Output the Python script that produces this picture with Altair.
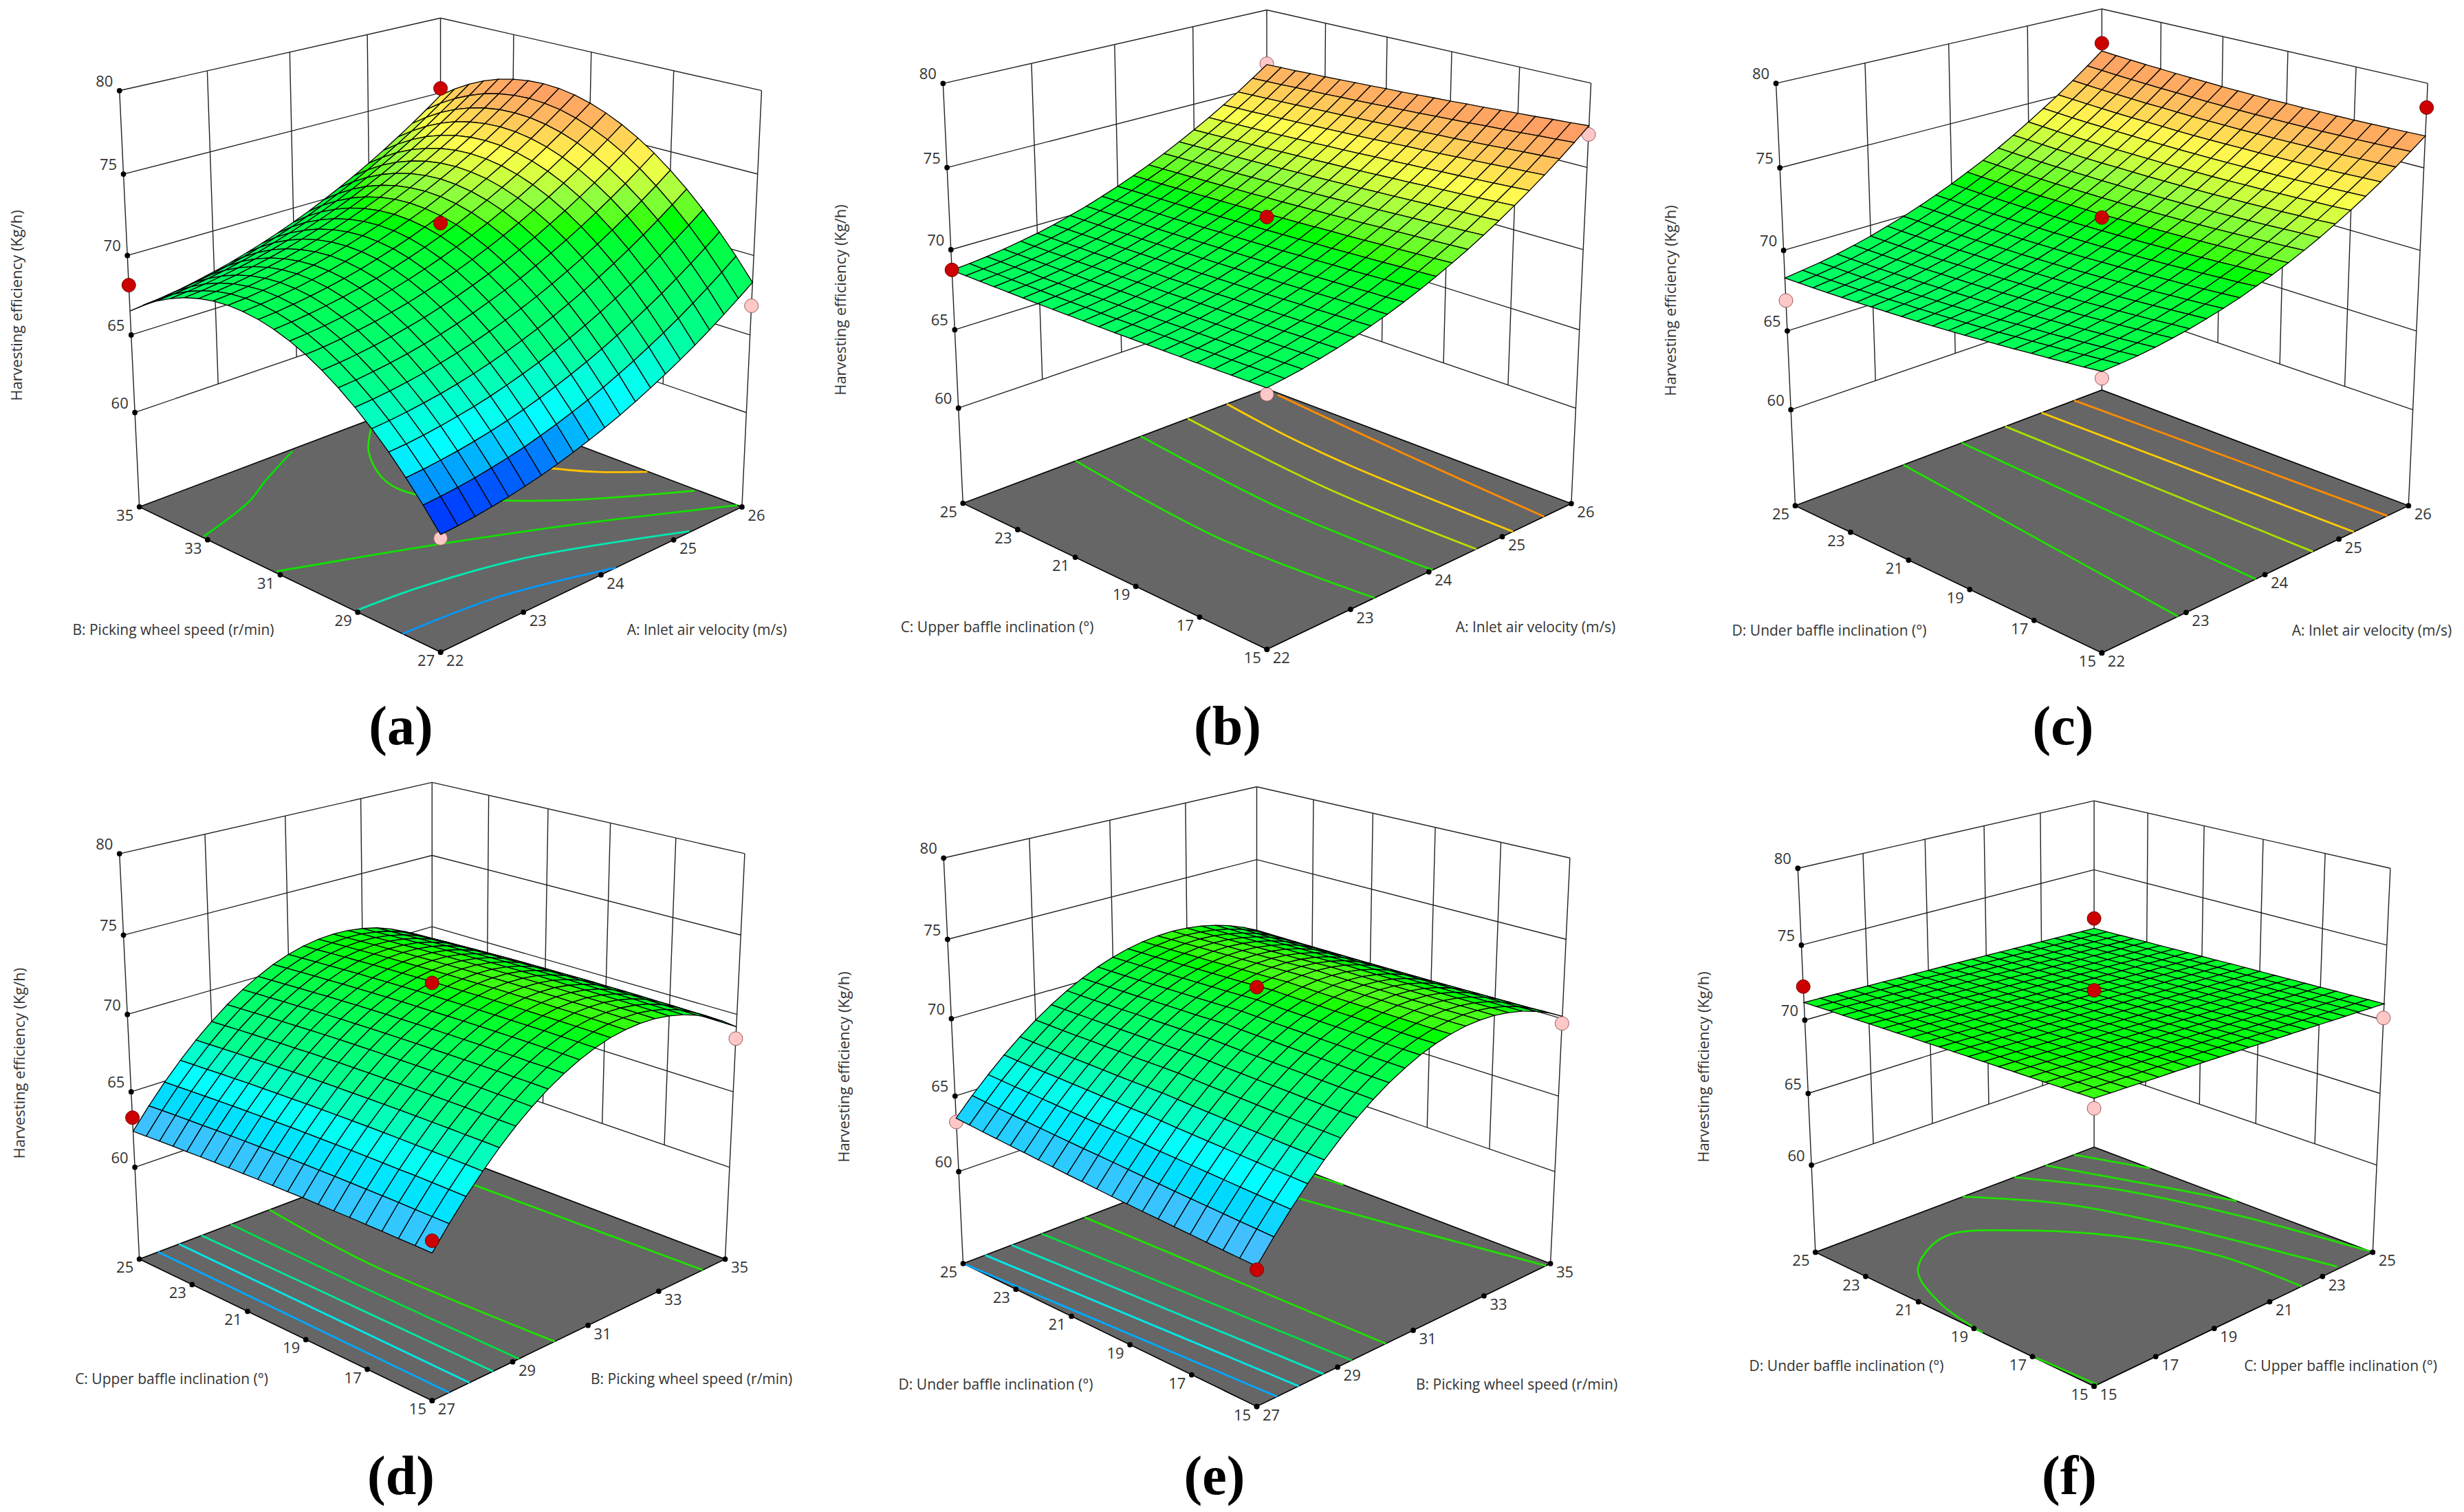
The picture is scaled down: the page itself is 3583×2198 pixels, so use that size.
import altair as alt, numpy as np, pandas as pd
alt.data_transformers.disable_max_rows()
FONT = "Open Sans"
Z_TICKS = [60, 65, 70, 75, 80]
Z_FLOOR, Z_TOP = 53.75, 80.0
FACTORS = {"A": ("A: Inlet air velocity (m/s)", 22, 26, [22, 23, 24, 25, 26]),
           "B": ("B: Picking wheel speed (r/min)", 27, 35, [27, 29, 31, 33, 35]),
           "C": ("C: Upper baffle inclination (°)", 15, 25, [15, 17, 19, 21, 23, 25]),
           "D": ("D: Under baffle inclination (°)", 15, 25, [15, 17, 19, 21, 23, 25])}
# surface heights in hundredths of Kg/h; rows run along the left floor axis, columns along the right one
GRID_A = [[6072,6079,6090,6105,6122,6142,6165,6192,6223,6256,6292,6331,6374,6421,6470,6522,6577,6636,6699,6764,6832],
[6200,6208,6219,6233,6251,6271,6294,6322,6352,6386,6422,6461,6505,6551,6601,6653,6708,6768,6830,6895,6964],
[6317,6325,6337,6351,6369,6389,6413,6440,6471,6504,6541,6581,6624,6671,6720,6773,6828,6888,6950,7016,7085],
[6425,6432,6444,6459,6477,6497,6521,6549,6580,6613,6650,6690,6733,6780,6830,6883,6938,6998,7061,7127,7195],
[6521,6529,6541,6556,6573,6594,6618,6646,6677,6711,6748,6788,6832,6879,6929,6982,7038,7097,7160,7226,7295],
[6607,6615,6627,6642,6660,6682,6706,6734,6765,6799,6836,6876,6920,6967,7017,7070,7127,7187,7250,7316,7385],
[6683,6691,6704,6719,6737,6759,6783,6811,6842,6877,6914,6954,6999,7046,7096,7149,7206,7266,7329,7396,7465],
[6748,6757,6769,6785,6803,6825,6849,6878,6909,6944,6981,7021,7066,7113,7164,7217,7274,7334,7398,7464,7534],
[6804,6812,6825,6841,6859,6881,6905,6934,6966,7000,7038,7079,7123,7171,7222,7275,7332,7392,7456,7523,7592],
[6848,6857,6869,6885,6904,6926,6951,6979,7011,7046,7084,7125,7170,7218,7268,7322,7379,7440,7504,7570,7640],
[6882,6891,6904,6920,6939,6961,6986,7015,7047,7082,7120,7161,7206,7254,7305,7359,7416,7477,7541,7608,7678],
[6906,6915,6929,6945,6964,6986,7011,7041,7073,7108,7146,7187,7232,7280,7332,7386,7443,7504,7568,7636,7706],
[6919,6929,6942,6958,6978,7000,7026,7055,7087,7123,7161,7202,7248,7296,7347,7402,7459,7521,7585,7652,7723],
[6923,6932,6946,6962,6982,7004,7030,7059,7092,7127,7166,7208,7253,7302,7353,7408,7465,7527,7591,7659,7729],
[6915,6925,6938,6955,6975,6997,7023,7053,7086,7121,7160,7202,7247,7296,7348,7403,7460,7522,7587,7654,7725],
[6897,6907,6921,6938,6958,6980,7006,7036,7069,7105,7144,7186,7232,7281,7333,7388,7445,7507,7572,7640,7711],
[6869,6879,6893,6910,6931,6954,6980,7010,7043,7079,7118,7160,7206,7255,7307,7362,7420,7483,7548,7616,7687],
[6830,6841,6855,6872,6892,6916,6942,6972,7005,7042,7081,7123,7170,7219,7271,7326,7385,7447,7512,7580,7652],
[6782,6792,6806,6824,6844,6868,6894,6925,6958,6995,7034,7076,7123,7172,7225,7280,7339,7401,7467,7535,7606],
[6722,6732,6747,6765,6785,6809,6836,6866,6900,6936,6976,7019,7065,7115,7167,7223,7282,7344,7410,7479,7550],
[6652,6663,6678,6695,6716,6740,6767,6798,6831,6868,6908,6951,6998,7047,7100,7156,7215,7278,7343,7412,7484]]
GRID_B = [[6879,6894,6910,6931,6954,6980,7010,7042,7078,7117,7159,7205,7252,7304,7358,7416,7476,7539,7606,7676,7749],
[6877,6891,6907,6928,6951,6976,7006,7038,7073,7113,7154,7199,7247,7298,7352,7410,7469,7532,7599,7669,7741],
[6875,6889,6905,6925,6949,6974,7003,7035,7070,7109,7150,7195,7242,7293,7347,7404,7463,7527,7593,7663,7735],
[6873,6887,6902,6922,6945,6970,6999,7031,7065,7104,7145,7190,7237,7287,7341,7398,7457,7520,7586,7655,7727],
[6871,6885,6901,6920,6943,6967,6996,7027,7062,7100,7141,7186,7232,7283,7336,7393,7451,7514,7579,7649,7721],
[6870,6883,6899,6918,6940,6964,6993,7024,7058,7097,7137,7181,7228,7278,7331,7388,7446,7508,7573,7643,7714],
[6869,6882,6897,6916,6938,6962,6990,7021,7055,7093,7133,7177,7223,7273,7326,7382,7440,7502,7567,7636,7707],
[6868,6881,6896,6915,6936,6960,6988,7019,7052,7090,7130,7174,7220,7269,7322,7378,7436,7497,7562,7631,7702],
[6867,6879,6894,6912,6934,6957,6985,7015,7049,7086,7126,7170,7215,7265,7317,7373,7430,7492,7556,7625,7695],
[6866,6879,6893,6911,6932,6956,6983,7013,7046,7084,7123,7166,7212,7261,7313,7368,7426,7487,7551,7619,7690],
[6866,6878,6892,6910,6931,6954,6981,7011,7044,7081,7120,7163,7208,7257,7309,7364,7421,7482,7546,7614,7684],
[6866,6877,6891,6909,6930,6952,6979,7009,7042,7078,7117,7160,7204,7253,7305,7360,7416,7477,7541,7609,7678],
[6866,6878,6891,6909,6929,6952,6978,7008,7040,7077,7115,7157,7202,7250,7302,7356,7413,7473,7537,7604,7674],
[6866,6877,6890,6907,6928,6950,6976,7005,7038,7074,7112,7154,7198,7247,7298,7352,7408,7469,7532,7599,7668],
[6866,6877,6890,6907,6927,6949,6975,7004,7036,7072,7110,7152,7196,7244,7295,7349,7405,7465,7528,7595,7664],
[6867,6878,6890,6907,6927,6949,6974,7003,7035,7070,7108,7150,7193,7241,7292,7345,7401,7461,7524,7590,7659],
[6868,6878,6890,6907,6926,6948,6973,7002,7033,7069,7106,7147,7191,7238,7289,7342,7398,7457,7520,7586,7654],
[6869,6879,6892,6908,6927,6948,6973,7001,7033,7068,7105,7146,7189,7237,7287,7340,7395,7454,7516,7583,7651],
[6870,6880,6892,6908,6926,6947,6972,7000,7031,7066,7103,7144,7187,7234,7284,7337,7392,7450,7512,7578,7646],
[6871,6881,6893,6908,6927,6948,6972,7000,7031,7065,7102,7143,7185,7232,7282,7334,7389,7448,7509,7575,7643],
[6873,6882,6894,6909,6928,6948,6972,7000,7030,7065,7101,7141,7184,7230,7280,7332,7387,7445,7506,7572,7639]]
GRID_C = [[6980,6985,6993,7004,7020,7037,7059,7083,7110,7142,7175,7212,7252,7295,7343,7393,7446,7502,7561,7625,7690],
[6967,6973,6981,6993,7009,7027,7050,7073,7101,7133,7167,7205,7245,7289,7336,7387,7441,7497,7557,7621,7687],
[6956,6962,6970,6983,6999,7017,7041,7065,7093,7126,7160,7198,7239,7283,7331,7383,7437,7493,7554,7618,7684],
[6944,6951,6960,6973,6989,7008,7032,7057,7085,7118,7153,7192,7233,7277,7326,7378,7433,7489,7550,7615,7682],
[6934,6941,6950,6963,6981,7000,7024,7049,7079,7112,7147,7186,7227,7273,7322,7374,7429,7487,7548,7613,7680],
[6923,6931,6940,6954,6972,6992,7016,7042,7072,7105,7141,7181,7222,7268,7318,7370,7426,7484,7546,7611,7679],
[6913,6922,6932,6946,6964,6984,7009,7036,7066,7100,7136,7176,7218,7264,7315,7368,7424,7482,7544,7610,7679],
[6904,6912,6923,6938,6956,6977,7003,7029,7060,7094,7131,7172,7214,7261,7311,7365,7422,7480,7543,7610,7678],
[6895,6904,6915,6930,6950,6971,6997,7024,7055,7090,7127,7168,7211,7258,7309,7363,7420,7480,7543,7610,7679],
[6887,6896,6908,6923,6943,6964,6991,7018,7050,7085,7123,7165,7208,7256,7307,7362,7419,7479,7542,7610,7679],
[6879,6889,6901,6917,6937,6959,6986,7014,7046,7082,7120,7162,7206,7254,7306,7361,7419,7479,7543,7611,7681],
[6871,6882,6894,6911,6931,6954,6981,7010,7042,7079,7117,7159,7204,7252,7305,7360,7419,7479,7544,7612,7683],
[6865,6876,6889,6906,6926,6949,6977,7006,7039,7076,7115,7158,7203,7252,7305,7361,7420,7480,7545,7614,7685],
[6859,6871,6884,6901,6923,6946,6974,7004,7037,7075,7114,7157,7203,7252,7306,7362,7421,7483,7548,7617,7689],
[6854,6865,6879,6897,6919,6943,6972,7001,7035,7073,7113,7157,7203,7253,7306,7363,7423,7485,7551,7621,7692],
[6848,6860,6875,6893,6915,6939,6969,6999,7033,7072,7112,7156,7203,7253,7307,7365,7425,7487,7553,7624,7696],
[6843,6856,6871,6890,6912,6937,6967,6998,7032,7071,7112,7156,7204,7254,7309,7367,7428,7490,7557,7628,7701],
[6839,6852,6867,6886,6910,6935,6965,6996,7032,7071,7112,7157,7204,7256,7311,7369,7430,7494,7561,7632,7705],
[6835,6849,6865,6884,6908,6934,6964,6996,7032,7071,7113,7159,7206,7258,7314,7372,7434,7498,7565,7637,7711],
[6833,6847,6863,6883,6907,6933,6964,6997,7033,7073,7115,7161,7209,7261,7318,7377,7439,7503,7571,7643,7717],
[6830,6845,6861,6882,6906,6933,6965,6997,7034,7074,7117,7164,7212,7265,7321,7381,7444,7508,7577,7649,7724]]
GRID_D = [[6271,6403,6523,6633,6734,6824,6903,6972,7030,7078,7116,7144,7160,7166,7163,7148,7124,7089,7043,6987,6921],
[6273,6404,6525,6635,6736,6825,6905,6974,7032,7080,7118,7146,7162,7168,7165,7151,7126,7091,7045,6990,6923],
[6273,6405,6526,6636,6736,6826,6906,6975,7032,7081,7119,7147,7164,7169,7166,7152,7128,7092,7046,6991,6925],
[6275,6407,6528,6637,6738,6828,6908,6977,7034,7083,7121,7149,7166,7171,7168,7154,7130,7095,7048,6993,6927],
[6275,6407,6527,6637,6738,6828,6908,6977,7034,7083,7121,7149,7166,7171,7168,7154,7130,7095,7049,6993,6927],
[6276,6407,6528,6638,6739,6829,6909,6977,7035,7084,7122,7150,7167,7173,7169,7155,7131,7096,7050,6995,6928],
[6275,6407,6528,6638,6739,6829,6908,6977,7035,7084,7122,7150,7167,7173,7170,7155,7131,7096,7050,6995,6929],
[6275,6407,6528,6638,6738,6828,6908,6977,7035,7084,7122,7150,7167,7173,7170,7156,7132,7096,7050,6995,6929],
[6275,6406,6527,6637,6738,6828,6908,6977,7035,7084,7122,7150,7167,7173,7170,7156,7132,7097,7051,6996,6929],
[6273,6405,6526,6636,6737,6827,6907,6976,7034,7083,7121,7149,7166,7172,7169,7155,7131,7096,7050,6995,6929],
[6272,6404,6525,6635,6736,6826,6906,6975,7033,7082,7120,7148,7165,7171,7168,7154,7130,7095,7049,6994,6928],
[6271,6403,6524,6634,6735,6825,6905,6974,7032,7081,7119,7147,7164,7170,7167,7153,7129,7094,7048,6993,6927],
[6268,6400,6521,6631,6733,6823,6903,6972,7030,7079,7117,7145,7162,7168,7165,7151,7127,7092,7046,6992,6926],
[6266,6398,6519,6629,6731,6821,6901,6970,7028,7077,7115,7143,7160,7166,7163,7149,7125,7091,7045,6990,6924],
[6263,6395,6516,6626,6727,6817,6898,6967,7025,7074,7112,7140,7157,7163,7160,7147,7123,7088,7042,6987,6921],
[6260,6393,6514,6624,6725,6815,6895,6965,7023,7072,7110,7138,7155,7161,7158,7145,7121,7086,7040,6985,6920],
[6256,6388,6510,6620,6721,6811,6891,6960,7018,7068,7106,7134,7151,7157,7154,7141,7117,7082,7036,6982,6916],
[6253,6385,6506,6617,6717,6808,6888,6957,7015,7065,7103,7131,7148,7155,7152,7138,7114,7079,7034,6979,6913],
[6249,6381,6502,6612,6713,6804,6884,6953,7011,7061,7099,7127,7144,7151,7148,7134,7110,7076,7030,6975,6909],
[6244,6377,6498,6608,6709,6800,6880,6949,7007,7057,7095,7123,7140,7147,7144,7130,7107,7072,7027,6971,6906],
[6240,6372,6494,6604,6705,6795,6876,6945,7003,7053,7091,7119,7136,7143,7140,7126,7103,7068,7022,6968,6902]]
GRID_E = [[6225,6355,6477,6588,6690,6782,6865,6938,7002,7055,7100,7135,7160,7176,7181,7178,7164,7142,7109,7067,7015],
[6229,6360,6481,6592,6693,6785,6867,6941,7004,7057,7101,7135,7160,7175,7181,7177,7163,7140,7107,7064,7013],
[6234,6364,6485,6595,6696,6788,6870,6943,7005,7058,7102,7136,7161,7175,7180,7176,7162,7139,7105,7062,7010],
[6239,6369,6489,6600,6700,6792,6873,6946,7008,7061,7104,7137,7162,7176,7181,7176,7162,7138,7105,7061,7009],
[6245,6374,6494,6604,6704,6795,6877,6949,7011,7063,7106,7139,7163,7177,7181,7177,7162,7138,7104,7060,7007],
[6250,6379,6499,6609,6708,6799,6880,6952,7013,7065,7108,7141,7165,7178,7182,7177,7162,7137,7103,7059,7006],
[6256,6384,6504,6613,6713,6803,6883,6955,7016,7068,7110,7142,7166,7179,7183,7177,7161,7137,7102,7058,7004],
[6261,6390,6509,6618,6717,6807,6887,6958,7019,7070,7112,7144,7167,7180,7183,7177,7161,7136,7101,7056,7003],
[6267,6395,6513,6622,6721,6810,6890,6961,7022,7072,7114,7146,7168,7181,7184,7178,7161,7136,7101,7055,7001],
[6273,6401,6519,6628,6726,6815,6895,6965,7025,7076,7117,7148,7171,7183,7185,7179,7162,7136,7101,7055,7001],
[6280,6407,6525,6633,6731,6820,6899,6969,7029,7079,7120,7151,7173,7185,7187,7180,7163,7137,7101,7055,7000],
[6287,6412,6529,6635,6732,6821,6898,6968,7027,7076,7117,7148,7169,7182,7184,7177,7160,7135,7099,7054,6999],
[6293,6417,6533,6638,6733,6821,6898,6966,7024,7074,7114,7144,7166,7178,7180,7173,7157,7132,7097,7053,6999],
[6301,6423,6537,6641,6735,6821,6898,6966,7024,7072,7112,7142,7164,7176,7178,7171,7155,7131,7097,7053,6999],
[6308,6429,6541,6645,6738,6823,6899,6965,7023,7070,7110,7140,7161,7173,7175,7169,7154,7129,7095,7051,7000],
[6316,6435,6546,6648,6741,6824,6899,6965,7022,7069,7108,7137,7158,7171,7173,7166,7151,7128,7094,7051,7000],
[6323,6441,6551,6652,6743,6826,6899,6964,7020,7067,7106,7135,7156,7168,7171,7164,7149,7126,7093,7051,7001],
[6331,6447,6556,6655,6745,6826,6900,6964,7020,7065,7104,7133,7154,7166,7168,7162,7147,7125,7092,7051,7001],
[6338,6453,6560,6659,6747,6828,6900,6963,7019,7064,7102,7130,7151,7163,7166,7160,7145,7123,7092,7051,7002],
[6347,6460,6566,6662,6750,6830,6902,6964,7018,7064,7101,7130,7150,7162,7164,7158,7144,7122,7092,7052,7003],
[6355,6468,6571,6667,6754,6833,6903,6965,7018,7064,7100,7128,7148,7159,7163,7157,7144,7121,7091,7052,7005]]
GRID_F = [[7170,7167,7165,7162,7159,7157,7154,7151,7148,7145,7143,7139,7136,7133,7130,7127,7123,7120,7117,7113,7110],
[7167,7165,7162,7160,7157,7155,7152,7149,7146,7143,7140,7137,7134,7131,7128,7125,7121,7118,7115,7111,7108],
[7165,7163,7160,7158,7155,7153,7150,7147,7144,7141,7138,7135,7132,7129,7126,7123,7119,7116,7113,7109,7106],
[7162,7160,7158,7155,7153,7150,7147,7145,7142,7139,7136,7133,7130,7127,7124,7120,7117,7114,7110,7107,7104],
[7160,7158,7155,7153,7150,7148,7145,7142,7139,7137,7134,7131,7128,7125,7121,7118,7115,7112,7108,7105,7101],
[7158,7155,7153,7151,7148,7146,7143,7140,7137,7134,7132,7129,7126,7122,7119,7116,7113,7110,7106,7103,7099],
[7155,7153,7151,7148,7146,7143,7140,7138,7135,7132,7129,7126,7123,7120,7117,7114,7111,7108,7104,7101,7097],
[7153,7150,7148,7146,7143,7141,7138,7135,7133,7130,7127,7124,7121,7118,7115,7112,7109,7105,7102,7099,7095],
[7151,7148,7146,7143,7141,7138,7136,7133,7130,7128,7125,7122,7119,7116,7113,7110,7106,7103,7100,7096,7093],
[7148,7146,7143,7141,7138,7136,7133,7131,7128,7125,7122,7119,7117,7113,7110,7107,7104,7101,7098,7094,7091],
[7146,7143,7141,7139,7136,7134,7131,7128,7126,7123,7120,7117,7114,7111,7108,7105,7102,7099,7095,7092,7089],
[7143,7141,7139,7136,7134,7131,7128,7126,7123,7120,7118,7115,7112,7109,7106,7103,7099,7096,7093,7090,7086],
[7141,7138,7136,7134,7131,7129,7126,7124,7121,7118,7115,7112,7110,7107,7103,7100,7097,7094,7091,7087,7084],
[7138,7136,7134,7131,7129,7126,7124,7121,7118,7116,7113,7110,7107,7104,7101,7098,7095,7092,7088,7085,7082],
[7136,7133,7131,7129,7126,7124,7121,7119,7116,7113,7111,7108,7105,7102,7099,7096,7093,7089,7086,7083,7080],
[7133,7130,7128,7126,7124,7121,7119,7116,7113,7111,7108,7105,7102,7099,7096,7093,7090,7087,7084,7081,7077],
[7130,7128,7126,7123,7121,7119,7116,7113,7111,7108,7106,7103,7100,7097,7094,7091,7088,7085,7082,7079,7075],
[7127,7125,7123,7121,7118,7116,7114,7111,7108,7106,7103,7100,7097,7095,7091,7088,7086,7083,7079,7076,7073],
[7125,7123,7120,7118,7116,7113,7111,7109,7106,7103,7101,7098,7095,7092,7089,7086,7083,7081,7077,7074,7070],
[7122,7120,7117,7115,7113,7110,7108,7106,7103,7100,7098,7095,7093,7090,7087,7084,7081,7078,7074,7071,7068],
[7119,7117,7115,7113,7110,7108,7105,7103,7100,7098,7096,7093,7090,7087,7084,7081,7078,7075,7072,7069,7066]]
POINTS_A = [(22,27,60.5,0),(26,27,66.85,0),(22,35,68.15,1),(26,35,75.3,1),(24,31,72.0,1)]
POINTS_B = [(22,15,68.43,0),(26,15,76.97,0),(22,25,68.75,1),(26,25,76.45,0),(24,20,72.0,1)]
POINTS_C = [(22,15,69.42,0),(26,15,78.58,1),(22,25,66.9,0),(26,25,77.75,1),(24,20,72.0,1)]
POINTS_D = [(27,15,63.44,1),(35,15,68.45,0),(27,25,63.3,1),(31,20,72.0,1)]
POINTS_E = [(27,15,62.04,1),(35,15,69.7,0),(27,25,63.3,0),(31,20,72.0,1)]
POINTS_F = [(15,15,71.1,0),(25,15,70.15,0),(15,25,72.25,1),(25,25,71.4,1),(20,20,72.0,1)]
CONTOURS_A = [("#00e000",[22.02,22.8,23.24,23.88],[33.16,33.72,34.24,34.92]),
 ("#20e000",[25.03,24.42,24.05,24.03,24.5,25.04,25.97],[35.0,33.86,32.63,31.72,30.41,29.38,28.09]),
 ("#ffc000",[25.37,25.63,25.99],[30.8,30.02,29.3]),
 ("#10e000",[22.02,23.5,24.64,26.0],[31.15,29.82,28.67,27.11]),
 ("#00e8b0",[22.02,22.72,23.78,25.24],[29.06,28.91,28.4,27.03]),
 ("#0099ff",[22.0,23.07,24.2],[27.9,27.69,27.0])]
CONTOURS_B = [("#20e000",[23.3,23.17,23.38],[15,19.4,25]),("#20e000",[24.05,24.01,24.23],[15,19.5,25]),
 ("#b8e000",[24.64,24.64,24.87],[15,19.6,25]),("#ffcc00",[25.15,25.18,25.26,25.42],[15,20.1,22.4,25]),
 ("#ff8c00",[25.6,25.76,25.96],[15,19.7,24.5])]
CONTOURS_C = [("#20e000",[22.9,23.31],[15,25]),("#20e000",[23.88,24.06],[15,25]),("#a8e000",[24.64,24.64],[15,25]),
 ("#ffcc00",[25.21,25.14],[15,25]),("#ff8c00",[25.69,25.6],[15,25])]
CONTOURS_D = [("#20e000",[34.31,34.18,34.12],[15,22.6,25]),("#20e000",[30.1,30.0,30.33],[15,20.9,25]),("#00e040",[29.16,29.2,29.31],[15,20,25]),
 ("#00e8a0",[28.5,28.55],[15,25]),("#00e8e8",[27.91,27.98],[15,25]),("#00aaff",[27.41,27.46],[15,25])]
CONTOURS_E = [("#20e000",[34.86,33.82,33.56],[15,22.1,25]),("#20e000",[35.0,34.92,34.76],[21.8,22.8,25]),("#20e000",[30.26,30.09],[15,25]),
 ("#00e040",[29.36,28.96],[15,25]),("#00e8c0",[28.64,28.2],[15,25]),("#00e8e8",[28.02,27.54],[15,25]),("#00aaff",[27.49,27.0],[15,25])]
CONTOURS_F = [("#20e000",[15.0,15.3,16.1,17.3,18.2,19.5,21.1,22.1,22.2],[18.7,20.5,22.3,23.2,23.4,22.4,20.3,17.6,15]),
 ("#20e000",[15.1,15.02],[15,16.9]),("#20e000",[20.0,21.6,22.6,23.7],[25,22.7,19.8,15.1]),
 ("#20e000",[21.9,23.3,24.3,25],[25,22.4,19,15.1]),("#20e000",[23.1,24.1,25],[25,22.2,19.6]),("#20e000",[24.2,25],[25,22.8])]
PANELS = [
 dict(name="(a)", soft=0, u="A", v="B", grid=GRID_A, pts=POINTS_A, cont=CONTOURS_A, L=(202.8,736.7), F=(640.6,948.2), R=(1079,736.7), B=(640.6,571.8), LT=(173.7,131.8), BT=(640.6,26.1), RT=(1107.4,131.8), tl=(252,917), tr=(1028,917), tz=(25,444), cap=(583,1058)),
 dict(name="(b)", soft=0, u="A", v="C", grid=GRID_B, pts=POINTS_B, cont=CONTOURS_B, L=(1400.5,731.1), F=(1842,944.7), R=(2285.2,731.1), B=(1842,566.1), LT=(1371.4,121.3), BT=(1842,14.1), RT=(2313.5,121.3), tl=(1450,913), tr=(2233,913), tz=(1223,436), cap=(1785,1058)),
 dict(name="(c)", soft=0, u="A", v="D", grid=GRID_C, pts=POINTS_C, cont=CONTOURS_C, L=(2610.5,734.6), F=(3056.4,949.6), R=(3502.3,734.6), B=(3056.4,567.5), LT=(2582.6,121.3), BT=(3056.4,12.7), RT=(3530.2,121.3), tl=(2660,918), tr=(3449,918), tz=(2430,437), cap=(3000,1058)),
 dict(name="(d)", soft=1, u="B", v="C", grid=GRID_D, pts=POINTS_D, cont=CONTOURS_D, L=(202.8,1830.4), F=(628.3,2036.2), R=(1054.6,1830.4), B=(628.3,1668.9), LT=(173.7,1241), BT=(628.3,1137.4), RT=(1082.9,1241), tl=(249.5,2006), tr=(1005.6,2006), tz=(29,1545.6), cap=(583,2148)),
 dict(name="(e)", soft=1, u="B", v="D", grid=GRID_E, pts=POINTS_E, cont=CONTOURS_E, L=(1400.5,1836.7), F=(1827.5,2044.7), R=(2254.6,1836.7), B=(1827.5,1674.6), LT=(1372.2,1247.3), BT=(1827.5,1143.7), RT=(2282.9,1247.3), tl=(1448,2013.7), tr=(2205.6,2013.7), tz=(1227.5,1551), cap=(1766,2148)),
 dict(name="(f)", soft=0, u="C", v="D", grid=GRID_F, pts=POINTS_F, cont=CONTOURS_F, L=(2639.9,1820.5), F=(3045.1,2015.1), R=(3450.3,1820.5), B=(3045.1,1667.5), LT=(2614.3,1262.2), BT=(3045.1,1164.2), RT=(3475.9,1262.2), tl=(2685,1987), tr=(3403.5,1987), tz=(2477.7,1551), cap=(3009,2148)),
]

def camera(p):
    world = [(0,0,0,"F"),(0,1,0,"L"),(1,0,0,"R"),(1,1,0,"B"),(0,1,1,"LT"),(1,0,1,"RT"),(1,1,1,"BT")]
    M, r = [], []
    for u,v,w,k in world:
        x,y = p[k]
        M.append([u,v,w,1,0,0,0,0,-x*u,-x*v,-x*w]); r.append(x)
        M.append([0,0,0,0,u,v,w,1,-y*u,-y*v,-y*w]); r.append(y)
    s = np.linalg.lstsq(np.array(M),np.array(r),rcond=None)[0]
    return np.append(s,1).reshape(3,4)
def proj(P,u,v,z):
    w=(z-Z_FLOOR)/(Z_TOP-Z_FLOOR)
    q=P@np.array([u,v,w,1.0])
    return q[0]/q[2], q[1]/q[2]

cells, floors, rules, lines, dots, labels, titles, caps, ztitles, points = [],[],[],[],[],[],[],[],[],[]
cid=0; lid=0; fid=0
for p in PANELS:
    P=camera(p)
    fu=FACTORS[p["u"]]; fv=FACTORS[p["v"]]
    nu=lambda x:(x-fu[1])/(fu[2]-fu[1]); nv=lambda x:(x-fv[1])/(fv[2]-fv[1])
    for k,(u,v) in enumerate([(0,0),(1,0),(1,1),(0,1),(0,0)]):
        x,y=proj(P,u,v,Z_FLOOR); floors.append(dict(x=x,y=y,k=k,f=fid))
    fid+=1
    def rule(a,b):
        x,y=proj(P,*a); x2,y2=proj(P,*b); rules.append(dict(x=x,y=y,x2=x2,y2=y2))
    for z in Z_TICKS:
        rule((0,1,z),(1,1,z)); rule((1,1,z),(1,0,z))
    for t in fu[3][1:-1]:
        rule((nu(t),1,60),(nu(t),1,80))
    for t in fv[3][1:-1]:
        rule((1,nv(t),60),(1,nv(t),80))
    rule((0,1,Z_FLOOR),(0,1,80)); rule((1,1,Z_FLOOR),(1,1,80)); rule((1,0,Z_FLOOR),(1,0,80))
    for col,cu,cv in p["cont"]:
        for k,(a,b) in enumerate(zip(cu,cv)):
            x,y=proj(P,nu(a),nv(b),Z_FLOOR); lines.append(dict(x=x,y=y,k=k,l=lid,col=col))
        lid+=1
    for t in fv[3]:
        x,y=proj(P,0,nv(t),Z_FLOOR); dots.append(dict(x=x,y=y)); labels.append(dict(x=x-21,y=y+13,t=str(t)))
    for t in fu[3]:
        x,y=proj(P,nu(t),0,Z_FLOOR); dots.append(dict(x=x,y=y)); labels.append(dict(x=x+21,y=y+13,t=str(t)))
    for z in Z_TICKS:
        x,y=proj(P,0,1,z); dots.append(dict(x=x,y=y)); labels.append(dict(x=x-22,y=y-13,t=str(z)))
    titles += [dict(x=p["tl"][0],y=p["tl"][1],t=fv[0]),dict(x=p["tr"][0],y=p["tr"][1],t=fu[0])]
    ztitles.append(dict(x=p["tz"][0],y=p["tz"][1],t="Harvesting efficiency (Kg/h)"))
    caps.append(dict(x=p["cap"][0],y=p["cap"][1],t=p["name"]))
    for a,b,z,red in p["pts"]:
        x,y=proj(P,nu(a),nv(b),z); points.append(dict(x=x,y=y,red=red))
    g=np.array(p["grid"],float)/100; n=g.shape[0]-1
    order=sorted([(i,j) for i in range(n) for j in range(n)],key=lambda c:-(c[0]+c[1]))
    for i,j in order:
        zm=g[i:i+2,j:j+2].mean()
        for k,(a,b) in enumerate([(i,j),(i,j+1),(i+1,j+1),(i+1,j),(i,j)]):
            x,y=proj(P,b/n,a/n,g[a,b]); cells.append(dict(x=x,y=y,k=k,c=cid,z=zm,soft=p["soft"]))
        cid+=1
SX=alt.Scale(domain=[8,3575]); SY=alt.Scale(domain=[2190,8])
X=alt.X("x:Q",scale=SX,axis=None); Y=alt.Y("y:Q",scale=SY,axis=None)
pointsdf=pd.DataFrame(points); cellsdf=pd.DataFrame(cells)
COLOR=alt.Scale(domain=[60.9,62.3,64,66.8,71.5,72.7,74.3,76,77.3],range=["#0000ff","#0070ff","#00ffff","#00ff80","#00ff00","#90ff40","#ffff50","#ffb860","#ff9966"])
SOFT=alt.Scale(domain=[62,64,65.5,67.5,71.5,72.7],range=["#60b0ff","#20d0ff","#00ffff","#00ff90","#00ff00","#90ff40"])
floor=alt.Chart(pd.DataFrame(floors)).mark_line(fill="#666666",stroke="#000",strokeWidth=1.6).encode(x=X,y=Y,order="k:Q",detail="f:N")
walls=alt.Chart(pd.DataFrame(rules)).mark_rule(color="#222",strokeWidth=1.4).encode(x=X,y=Y,x2="x2:Q",y2="y2:Q")
cont=alt.Chart(pd.DataFrame(lines)).mark_line(strokeWidth=2.8,interpolate="catmull-rom").encode(x=X,y=Y,order="k:Q",detail="l:N",color=alt.Color("col:N",scale=None))
dot=alt.Chart(pd.DataFrame(dots)).mark_circle(color="#000",size=60,opacity=1).encode(x=X,y=Y)
pink=alt.Chart(pointsdf[pointsdf.red==0]).mark_circle(color="#ffc8c8",size=400,opacity=1,stroke="#9a5a5a",strokeWidth=1).encode(x=X,y=Y)
red=alt.Chart(pointsdf[pointsdf.red==1]).mark_circle(color="#cc0000",size=400,opacity=1,stroke="#700000",strokeWidth=1).encode(x=X,y=Y)
surf=alt.Chart(cellsdf[cellsdf.soft==0]).mark_line(stroke="#000",strokeWidth=1.3).encode(x=X,y=Y,order="k:Q",detail="c:N",fill=alt.Fill("z:Q",scale=COLOR,legend=None))
surf2=alt.Chart(cellsdf[cellsdf.soft==1]).mark_line(stroke="#000",strokeWidth=1.3).encode(x=X,y=Y,order="k:Q",detail="c:N",fill=alt.Fill("z:Q",scale=SOFT,legend=None))
txt=alt.Chart(pd.DataFrame(labels)).mark_text(font=FONT,fontSize=22,color="#333").encode(x=X,y=Y,text="t:N")
ttl=alt.Chart(pd.DataFrame(titles)).mark_text(font=FONT,fontSize=21,color="#333").encode(x=X,y=Y,text="t:N")
zt=alt.Chart(pd.DataFrame(ztitles)).mark_text(font=FONT,fontSize=22,color="#333",angle=270).encode(x=X,y=Y,text="t:N")
cp=alt.Chart(pd.DataFrame(caps)).mark_text(font="Liberation Serif",fontSize=80,fontWeight="bold",color="#000").encode(x=X,y=Y,text="t:N")
chart=alt.layer(floor,walls,cont,dot,pink,surf,surf2,red,txt,ttl,zt,cp).resolve_scale(fill="independent").properties(width=3567,height=2182,padding=0).configure_view(stroke=None)
chart.save("out.html",embed_options={"renderer":"svg","actions":False})
